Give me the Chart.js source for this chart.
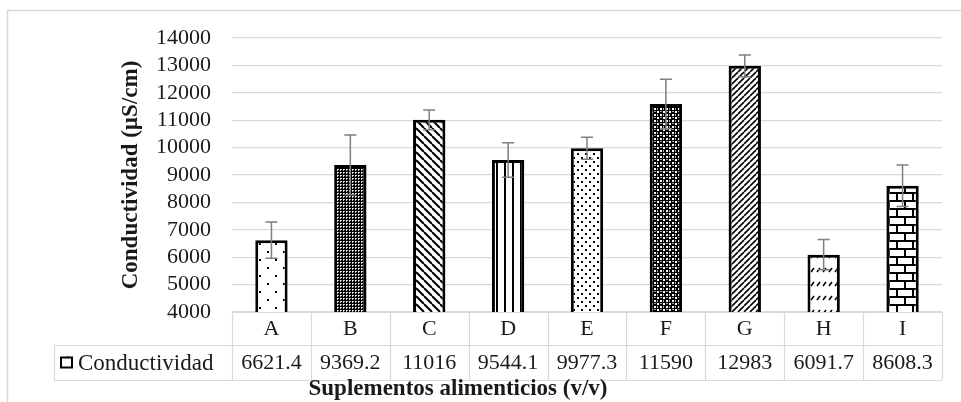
<!DOCTYPE html>
<html>
<head>
<meta charset="utf-8">
<script src="https://cdn.jsdelivr.net/npm/chart.js@4.4.1/dist/chart.umd.min.js"></script>
<style>
  html, body { margin: 0; padding: 0; background: #fff; }
  #wrap { width: 961px; height: 402px; }
</style>
</head>
<body>
<div id="wrap"><canvas id="chart" width="961" height="402"></canvas></div>
<script>
// Data
const categories = ['A', 'B', 'C', 'D', 'E', 'F', 'G', 'H', 'I'];
const conductividad = [6621.4, 9369.2, 11016, 9544.1, 9977.3, 11590, 12983, 6091.7, 8608.3];
const errores = [660, 1090, 360, 630, 400, 900, 400, 550, 760];
const patternKinds = ['dotsSparse', 'gridFine', 'diagDown', 'vertical', 'dotsMed', 'trellis', 'diagUp', 'dashDiag', 'bricks'];
const yTicks = { min: 4000, max: 14000, step: 1000 };

const serif = "'Liberation Serif', 'Times New Roman', serif";
const textColor = '#1a1a1a';
const lineGray = '#d9d9d9';

// Patrones de relleno de cada barra
function makePattern(kind) {
    const c = document.createElement('canvas');
    const sizes = { dotsSparse: [16, 16], gridFine: [3, 3], diagDown: [8, 8], vertical: [8, 8], dotsMed: [8, 8],
                    trellis: [6, 6], diagUp: [6, 6], dashDiag: [6, 14], bricks: [16, 16] };
    const [w, h] = sizes[kind];
    c.width = w; c.height = h;
    const g = c.getContext('2d');
    g.fillStyle = '#fff';
    g.fillRect(0, 0, w, h);
    g.fillStyle = '#000';
    g.strokeStyle = '#000';
    if (kind === 'dotsSparse') {
        g.fillRect(3, 3, 2, 2); g.fillRect(11, 11, 2, 2);
    } else if (kind === 'gridFine') {
        g.fillRect(0, 0, 3, 3);
        g.fillStyle = '#fff'; g.fillRect(1, 1, 1, 1);
        g.fillStyle = '#bbb'; g.fillRect(2, 1, 1, 1); g.fillRect(1, 2, 1, 1);
    } else if (kind === 'diagDown') {
        g.lineWidth = 2;
        [-8, 0, 8].forEach(o => { g.beginPath(); g.moveTo(o, 0); g.lineTo(o + 8, 8); g.stroke(); });
    } else if (kind === 'vertical') {
        g.fillRect(0, 0, 2, 8);
    } else if (kind === 'dotsMed') {
        g.fillRect(1, 1, 2, 2); g.fillRect(5, 5, 2, 2);
    } else if (kind === 'trellis') {
        g.fillRect(0, 0, 6, 6);
        g.fillStyle = '#fff';
        g.fillRect(0, 0, 2, 2); g.fillRect(3, 3, 2, 2);
        g.fillStyle = '#aaa'; g.fillRect(3, 0, 1, 2); g.fillRect(0, 3, 2, 1);
    } else if (kind === 'diagUp') {
        g.lineWidth = 1.6;
        [-6, 0, 6].forEach(o => { g.beginPath(); g.moveTo(o, 6); g.lineTo(o + 6, 0); g.stroke(); });
    } else if (kind === 'dashDiag') {
        g.lineWidth = 1.5;
        g.beginPath(); g.moveTo(1, 6); g.lineTo(4, 2); g.stroke();
    } else if (kind === 'bricks') {
        g.fillRect(0, 0, 16, 2); g.fillRect(0, 8, 16, 2);
        g.fillRect(0, 0, 2, 8); g.fillRect(8, 8, 2, 8);
    }
    return document.getElementById('chart').getContext('2d').createPattern(c, 'repeat');
}

const patterns = patternKinds.map(makePattern);

// Marco exterior del gráfico
const framePlugin = {
    id: 'frame',
    beforeDraw(chart) {
        const ctx = chart.ctx;
        ctx.save();
        ctx.fillStyle = '#fff';
        ctx.fillRect(0, 0, chart.width, chart.height);
        ctx.strokeStyle = lineGray;
        ctx.lineWidth = 1.5;
        ctx.beginPath();
        ctx.moveTo(7.5, chart.height);
        ctx.lineTo(7.5, 10.5);
        ctx.lineTo(chart.width, 10.5);
        ctx.stroke();
        ctx.restore();
    }
};

// Barras de error
const errorBarPlugin = {
    id: 'errorBars',
    afterDatasetsDraw(chart) {
        const ctx = chart.ctx;
        const y = chart.scales.y;
        const meta = chart.getDatasetMeta(0);
        ctx.save();
        ctx.strokeStyle = '#7f7f7f';
        ctx.lineWidth = 1.5;
        meta.data.forEach((bar, i) => {
            const v = conductividad[i], e = errores[i];
            const yt = y.getPixelForValue(v + e);
            const yb = y.getPixelForValue(v - e);
            ctx.beginPath();
            ctx.moveTo(bar.x, yt); ctx.lineTo(bar.x, yb);
            ctx.moveTo(bar.x - 6, yt); ctx.lineTo(bar.x + 6, yt);
            ctx.moveTo(bar.x - 6, yb); ctx.lineTo(bar.x + 6, yb);
            ctx.stroke();
        });
        ctx.restore();
    }
};

// Tabla de datos bajo el eje X
const dataTablePlugin = {
    id: 'dataTable',
    afterDraw(chart) {
        const ctx = chart.ctx;
        const x = chart.scales.x;
        const area = chart.chartArea;
        const colW = (x.right - x.left) / categories.length;
        const top = area.bottom, mid = top + 33, bot = mid + 35;
        const tableLeft = 54;

        ctx.save();
        ctx.strokeStyle = lineGray;
        ctx.lineWidth = 1.2;
        ctx.beginPath();
        ctx.moveTo(x.left, top + 0.5); ctx.lineTo(x.right, top + 0.5);
        ctx.moveTo(tableLeft, mid + 0.5); ctx.lineTo(x.right, mid + 0.5);
        ctx.moveTo(tableLeft, bot + 0.5); ctx.lineTo(x.right, bot + 0.5);
        ctx.moveTo(tableLeft + 0.5, mid); ctx.lineTo(tableLeft + 0.5, bot);
        for (let i = 0; i <= categories.length; i++) {
            const px = Math.round(x.left + colW * i) + 0.5;
            ctx.moveTo(px, top); ctx.lineTo(px, bot);
        }
        ctx.stroke();

        ctx.fillStyle = textColor;
        ctx.font = '22px ' + serif;
        ctx.textAlign = 'center';
        ctx.textBaseline = 'middle';
        categories.forEach((c, i) => {
            const cx = x.getPixelForValue(i);
            ctx.fillText(c, cx, (top + mid) / 2 + 1);
            ctx.fillText(String(conductividad[i]), cx, (mid + bot) / 2 + 1);
        });

        // clave de la leyenda
        const ky = (mid + bot) / 2 - 6;
        ctx.fillStyle = patterns[0];
        ctx.fillRect(60, ky, 13, 12);
        ctx.strokeStyle = '#000';
        ctx.lineWidth = 2;
        ctx.strokeRect(61, ky + 1, 11, 10);
        ctx.fillStyle = textColor;
        ctx.textAlign = 'left';
        ctx.font = '23px ' + serif;
        ctx.fillText(chart.data.datasets[0].label, 78, (mid + bot) / 2 + 1);

        // título del eje X
        ctx.font = 'bold 23px ' + serif;
        ctx.textAlign = 'center';
        ctx.fillText('Suplementos alimenticios (v/v)', 458, 389);
        ctx.restore();
    }
};

const chart = new Chart(document.getElementById('chart'), {
    type: 'bar',
    data: {
        labels: categories,
        datasets: [{
            label: 'Conductividad',
            data: conductividad,
            backgroundColor: patterns,
            borderColor: '#000',
            borderWidth: 3,
            borderSkipped: false,
            categoryPercentage: 1,
            barPercentage: 0.41
        }]
    },
    options: {
        responsive: false,
        animation: false,
        layout: { padding: { left: 0, top: 38, right: 19, bottom: 0 } },
        plugins: { legend: { display: false }, tooltip: { enabled: false } },
        scales: {
            x: {
                ticks: { display: false },
                grid: { display: false },
                border: { display: false },
                afterFit(scale) { scale.height = 90; }
            },
            y: {
                min: yTicks.min,
                max: yTicks.max,
                ticks: {
                    stepSize: yTicks.step,
                    autoSkip: false,
                    padding: 21,
                    color: textColor,
                    font: { family: serif, size: 22 },
                    callback: v => String(v)
                },
                grid: { color: lineGray, lineWidth: 1.2, drawTicks: false },
                border: { display: false },
                title: {
                    display: true,
                    text: 'Conductividad (µS/cm)',
                    color: textColor,
                    font: { family: serif, size: 23, weight: 'bold' },
                    padding: { top: 117, bottom: 0 }
                },
                afterFit(scale) { scale.width = 232; }
            }
        }
    },
    plugins: [framePlugin, errorBarPlugin, dataTablePlugin]
});
</script>
</body>
</html>
